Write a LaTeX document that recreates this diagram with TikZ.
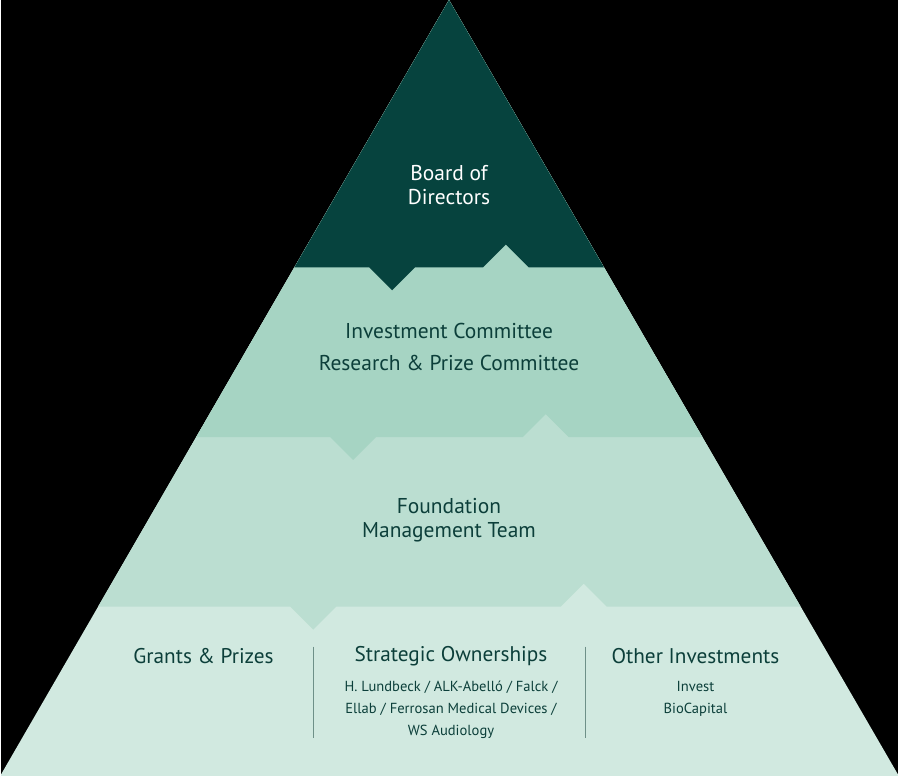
\documentclass[tikz,border=0pt]{standalone}
\usepackage{fontspec}
\setmainfont{PT Sans}
\usepackage{xcolor}
\usepackage{tikz}

\definecolor{bandA}{HTML}{06433E}
\definecolor{bandB}{HTML}{A6D4C3}
\definecolor{bandC}{HTML}{BBDED1}
\definecolor{bandD}{HTML}{D1E9E0}
\definecolor{inkdark}{HTML}{0C3F3A}
\definecolor{divider}{HTML}{6E9088}

\begin{document}
\begin{tikzpicture}[
    x=1pt, y=-1pt,
    title/.style={align=center, font=\fontsize{21.5}{24}\selectfont, text=inkdark},
    head/.style={font=\fontsize{21.3}{24}\selectfont, text=inkdark},
    sub/.style={align=center, font=\fontsize{14.6}{22}\selectfont, text=inkdark}
]
\fill[black] (0,0) rectangle (899,778);

% pyramid bands with the notches
\begin{scope}
\clip (449,0) -- (900,778) -- (-1,778) -- cycle;
\fill[bandD] (0,0) rectangle (899,778);
\foreach \y/\dn/\up/\col in {608/313/584/bandC, 438/353/546/bandB, 268/392/506/bandA}
    \fill[\col] (0,0) -| (899,\y) -- (\up+23,\y) -- (\up,\y-23) -- (\up-23,\y)
        -- (\dn+23,\y) -- (\dn,\y+23) -- (\dn-23,\y) -- (0,\y) -- cycle;
\end{scope}

\node[title, text=white] (board) at (449,185) {Board of\\Directors};
\node[title] (committees) at (449,348) {Investment Committee\\[8pt]Research \& Prize Committee};
\node[title] (team) at (449,521) {Foundation\\Management Team};

\node[head] (grants) at (203,658) {Grants \& Prizes};
\node[head] (strategic) at (451,658) {Strategic Ownerships};
\node[head] (other) at (696,658) {Other Investments};
\node[sub] (companies) at (451,711) {H. Lundbeck / ALK-Abelló / Falck /\\Ellab / Ferrosan Medical Devices /\\WS Audiology};
\node[sub] (funds) at (696,700) {Invest\\BioCapital};

\draw[divider] (313,648) coordinate (d1) -- (313,740);
\draw[divider] (585,648) coordinate (d2) -- (585,740);
\end{tikzpicture}
\end{document}
